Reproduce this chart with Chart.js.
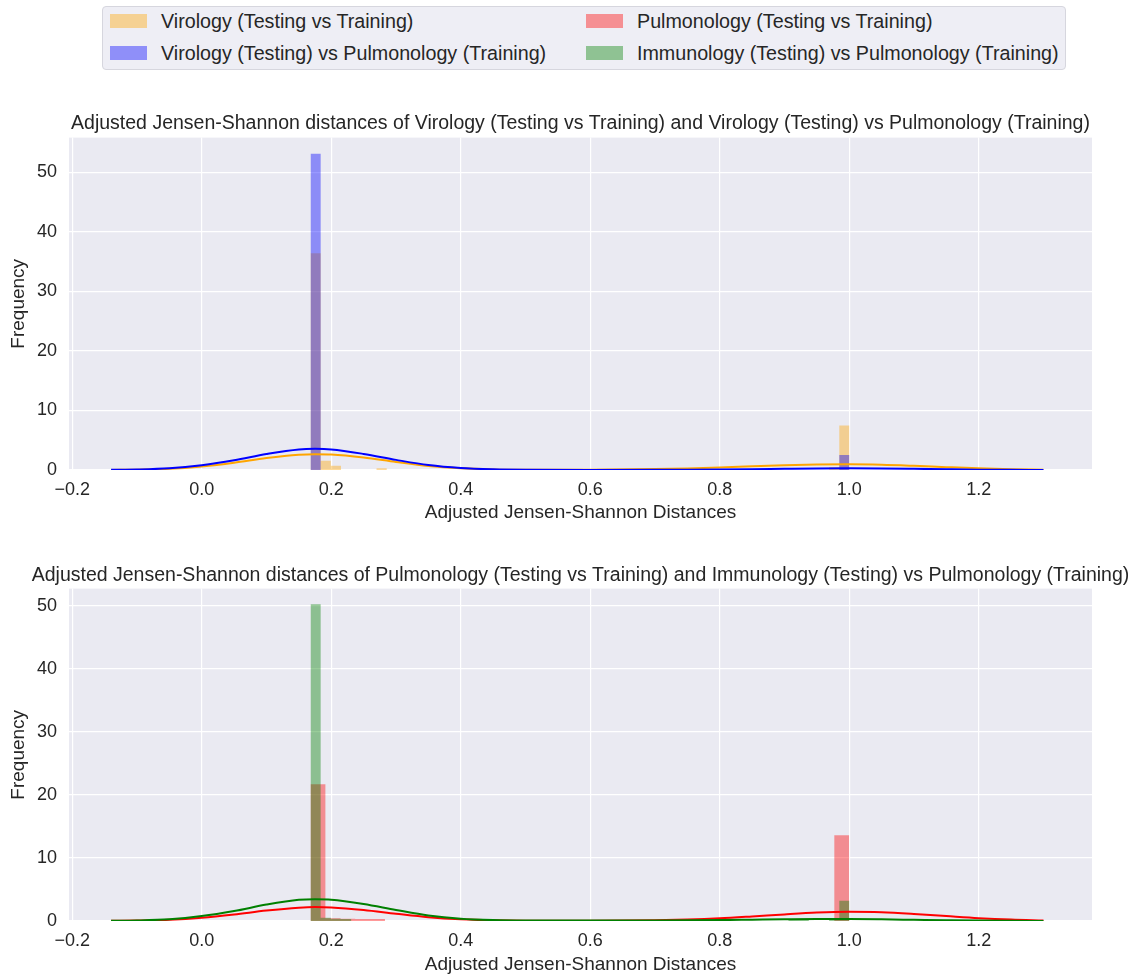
<!DOCTYPE html>
<html>
<head>
<meta charset="utf-8">
<script src="https://cdn.jsdelivr.net/npm/chart.js@4.4.0/dist/chart.umd.min.js"></script>
<style>
  html, body { margin: 0; padding: 0; background: #ffffff; overflow: hidden; width: 1136px; height: 976px; }
  body { position: relative; font-family: "Liberation Sans", Arial, sans-serif; color: #262626; }
  .legend {
    position: absolute; left: 102px; top: 6px; width: 962px; height: 62px;
    background: rgba(234, 234, 242, 0.8); border: 1px solid #d6d6de; border-radius: 4px;
  }
  .item { position: absolute; display: flex; align-items: center; font-size: 19.7px; line-height: 22px; white-space: nowrap; }
  .sw { width: 37px; height: 14px; margin-right: 14px; }
  canvas { position: absolute; left: 0; }
</style>
</head>
<body>
<div class="legend" id="legend"></div>
<canvas id="top" width="1161" height="430" style="top:100px"></canvas>
<canvas id="bottom" width="1161" height="440" style="top:545px"></canvas>
<script>
// ---- Series labels and colours ----
const seriesNames = [
  'Virology (Testing vs Training)',
  'Pulmonology (Testing vs Training)',
  'Virology (Testing) vs Pulmonology (Training)',
  'Immunology (Testing) vs Pulmonology (Training)'
];
const chartTitles = [
  'Adjusted Jensen-Shannon distances of Virology (Testing vs Training) and Virology (Testing) vs Pulmonology (Training)',
  'Adjusted Jensen-Shannon distances of Pulmonology (Testing vs Training) and Immunology (Testing) vs Pulmonology (Training)'
];
const xAxisTitle = 'Adjusted Jensen-Shannon Distances';
const yAxisTitle = 'Frequency';
const xTickValues = [-0.2, 0.0, 0.2, 0.4, 0.6, 0.8, 1.0, 1.2];

// ---- Histogram bins (normalised frequency) ----
const virologySelfBinLeft  = [0.1680, 0.1837, 0.1994, 0.2700, 0.9690, 0.9847];
const virologySelfBinRight = [0.1837, 0.1994, 0.2151, 0.2857, 0.9847, 1.0004];
const virologySelfHeight   = [36.4, 1.55, 0.7, 0.3, 0.5, 7.45];

const virologyCrossBinLeft  = [0.1680, 0.9847];
const virologyCrossBinRight = [0.1837, 1.0004];
const virologyCrossHeight   = [53.1, 2.5];

const pulmonologySelfBinLeft  = [0.168, 0.191, 0.214, 0.237, 0.260, 0.977];
const pulmonologySelfBinRight = [0.191, 0.214, 0.237, 0.260, 0.283, 1.000];
const pulmonologySelfHeight   = [21.7, 0.45, 0.35, 0.3, 0.3, 13.6];

const immunologyCrossBinLeft  = [0.1680, 0.1837, 0.1994, 0.2151, 0.9062, 0.9219, 0.9690, 0.9847];
const immunologyCrossBinRight = [0.1837, 0.1994, 0.2151, 0.2308, 0.9219, 0.9376, 0.9847, 1.0004];
const immunologyCrossHeight   = [50.2, 0.5, 0.35, 0.3, 0.2, 0.2, 0.25, 3.2];

// ---- Kernel density estimates ----
const kdeX = [-0.14, -0.1, -0.05, 0.0, 0.05, 0.1, 0.15, 0.175, 0.2, 0.25, 0.3, 0.35, 0.4, 0.45, 0.5,
              0.6, 0.7, 0.75, 0.8, 0.85, 0.9, 0.95, 1.0, 1.05, 1.1, 1.15, 1.2, 1.25, 1.3];
const virologySelfKde    = [0.02, 0.06, 0.2, 0.6, 1.22, 2.0, 2.55, 2.65, 2.6, 2.1, 1.35, 0.68, 0.28, 0.1, 0.05,
                            0.06, 0.15, 0.27, 0.43, 0.62, 0.8, 0.92, 0.95, 0.88, 0.7, 0.48, 0.28, 0.14, 0.06];
const virologyCrossKde   = [0.03, 0.08, 0.28, 0.8, 1.62, 2.67, 3.45, 3.55, 3.45, 2.7, 1.7, 0.82, 0.32, 0.11, 0.04,
                            0.02, 0.03, 0.05, 0.08, 0.13, 0.2, 0.26, 0.28, 0.25, 0.19, 0.12, 0.06, 0.03, 0.01];
const pulmonologySelfKde = [0.02, 0.06, 0.18, 0.5, 1.02, 1.65, 2.1, 2.2, 2.15, 1.75, 1.15, 0.6, 0.26, 0.1, 0.04,
                            0.03, 0.1, 0.22, 0.42, 0.72, 1.05, 1.33, 1.45, 1.38, 1.12, 0.78, 0.45, 0.22, 0.09];
const immunologyCrossKde = [0.03, 0.08, 0.27, 0.78, 1.58, 2.6, 3.35, 3.45, 3.38, 2.7, 1.75, 0.88, 0.36, 0.14, 0.07,
                            0.06, 0.08, 0.1, 0.14, 0.2, 0.26, 0.3, 0.3, 0.26, 0.19, 0.12, 0.06, 0.03, 0.01];

// ---- Styling ----
const COLORS = {
  orange: '255,165,0', blue: '0,0,255', red: '255,0,0', green: '0,128,0'
};
const TEXT = '#262626';
const FONT = '"Liberation Sans", Arial, sans-serif';

// Legend (two columns)
const legendLayout = [
  { name: seriesNames[0], color: COLORS.orange, left: 7,   top: 3 },
  { name: seriesNames[1], color: COLORS.red,    left: 483, top: 3 },
  { name: seriesNames[2], color: COLORS.blue,   left: 7,   top: 35 },
  { name: seriesNames[3], color: COLORS.green,  left: 483, top: 35 }
];
const legendEl = document.getElementById('legend');
legendLayout.forEach(it => {
  const d = document.createElement('div');
  d.className = 'item';
  d.style.left = it.left + 'px';
  d.style.top = it.top + 'px';
  const sw = document.createElement('span');
  sw.className = 'sw';
  sw.style.background = 'rgba(' + it.color + ',0.4)';
  d.appendChild(sw);
  d.appendChild(document.createTextNode(it.name));
  legendEl.appendChild(d);
});

// Build a filled step outline for a histogram from its bins
function histPoints(lefts, rights, heights) {
  const pts = [];
  for (let i = 0; i < lefts.length; i++) {
    pts.push({ x: lefts[i], y: heights[i] });
    pts.push({ x: rights[i], y: 0 });
  }
  return pts;
}
function kdePoints(values) {
  return kdeX.map((x, i) => ({ x: x, y: values[i] }));
}
function histDataset(label, color, pts, order) {
  return {
    label, data: pts, order,
    stepped: true, fill: 'origin',
    backgroundColor: 'rgba(' + color + ',0.4)',
    borderColor: 'rgba(0,0,0,0)', borderWidth: 0,
    pointRadius: 0, pointHoverRadius: 0
  };
}
function kdeDataset(label, color, pts, order) {
  return {
    label, data: pts, order,
    fill: false, borderColor: 'rgb(' + color + ')', borderWidth: 2,
    cubicInterpolationMode: 'monotone',
    pointRadius: 0, pointHoverRadius: 0
  };
}

const plotBackground = {
  id: 'plotBackground',
  beforeDraw(chart) {
    const { ctx, chartArea: a } = chart;
    ctx.save();
    ctx.fillStyle = '#EAEAF2';
    ctx.fillRect(a.left, a.top, a.right - a.left, a.bottom - a.top);
    ctx.restore();
  }
};

function makeChart(id, title, datasets, yMax, opts) {
  return new Chart(document.getElementById(id), {
    type: 'line',
    data: { datasets },
    plugins: [plotBackground],
    options: {
      responsive: false, animation: false, devicePixelRatio: 1,
      layout: { padding: 0 },
      plugins: {
        legend: { display: false }, tooltip: { enabled: false },
        title: {
          display: true, text: title, color: TEXT,
          font: { family: FONT, size: 19.5, weight: 'normal', lineHeight: 1.2 },
          padding: { top: opts.titleTop, bottom: opts.titleBottom }
        }
      },
      scales: {
        x: {
          type: 'linear', min: -0.205, max: 1.375,
          afterFit: s => { s.height = opts.xHeight; },
          afterBuildTicks: s => { s.ticks = xTickValues.map(v => ({ value: v })); },
          grid: { color: '#ffffff', lineWidth: 1.2, drawTicks: false },
          border: { display: false },
          ticks: {
            color: TEXT, padding: 9,
            font: { family: FONT, size: 18, lineHeight: 1.2 },
            callback: v => (v < 0 ? '\u2212' : '') + Math.abs(v).toFixed(1)
          },
          title: {
            display: true, text: xAxisTitle, color: TEXT,
            font: { family: FONT, size: 19, lineHeight: 1.2 },
            padding: { top: 0, bottom: opts.xTitleBottom }
          }
        },
        y: {
          min: 0, max: yMax,
          afterFit: s => { s.width = 69; },
          grid: { color: '#ffffff', lineWidth: 1.2, drawTicks: false },
          border: { display: false },
          ticks: {
            stepSize: 10, includeBounds: false, color: TEXT, padding: 12,
            font: { family: FONT, size: 18, lineHeight: 1.2 }
          },
          title: {
            display: true, text: yAxisTitle, color: TEXT,
            font: { family: FONT, size: 19, lineHeight: 1.2 },
            padding: { top: 7, bottom: 0 }
          }
        },
        // empty right-hand gutter, keeps the title centred over the plot
        gutter: {
          type: 'linear', position: 'right', min: 0, max: yMax,
          afterFit: s => { s.width = 69; },
          grid: { display: false, drawOnChartArea: false },
          border: { display: false },
          ticks: { display: false }
        }
      }
    }
  });
}

makeChart('top', chartTitles[0], [
  kdeDataset(seriesNames[2], COLORS.blue, kdePoints(virologyCrossKde), 0),
  kdeDataset(seriesNames[0], COLORS.orange, kdePoints(virologySelfKde), 1),
  histDataset(seriesNames[2], COLORS.blue, histPoints(virologyCrossBinLeft, virologyCrossBinRight, virologyCrossHeight), 2),
  histDataset(seriesNames[0], COLORS.orange, histPoints(virologySelfBinLeft, virologySelfBinRight, virologySelfHeight), 3)
], 55.8, { titleTop: 12, titleBottom: 2.2, xHeight: 60, xTitleBottom: 5.6 });

makeChart('bottom', chartTitles[1], [
  kdeDataset(seriesNames[3], COLORS.green, kdePoints(immunologyCrossKde), 0),
  kdeDataset(seriesNames[1], COLORS.red, kdePoints(pulmonologySelfKde), 1),
  histDataset(seriesNames[3], COLORS.green, histPoints(immunologyCrossBinLeft, immunologyCrossBinRight, immunologyCrossHeight), 2),
  histDataset(seriesNames[1], COLORS.red, histPoints(pulmonologySelfBinLeft, pulmonologySelfBinRight, pulmonologySelfHeight), 3)
], 52.7, { titleTop: 18.6, titleBottom: 1.6, xHeight: 64, xTitleBottom: 8.6 });
</script>
</body>
</html>
